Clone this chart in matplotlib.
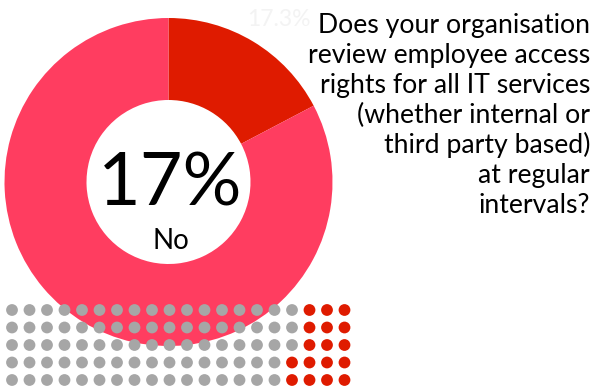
import matplotlib
matplotlib.use("Agg")
import matplotlib.pyplot as plt
import numpy as np

# Umfrageergebnis
anteile = [17.3, 82.7]           # Nein / Ja in Prozent
farben = ["#df1b00", "#ff3d60"]
anteil_label = "17.3%"
gross_label = "17%"
antwort = "No"
frage = [
    "Does your organisation",
    "review employee access",
    "rights for all IT services",
    "(whether internal or",
    "third party based)",
    "at regular",
    "intervals?",
]
punkte_gesamt = 100
punkte_nein = 17
punkt_spalten = 20

plt.rcParams["font.family"] = ["Lato", "DejaVu Sans"]

W, H = 598, 390
fig = plt.figure(figsize=(W / 100, H / 100), dpi=100)
ax = fig.add_axes([0, 0, 1, 1])

# Donut
cx, cy, r = 168.5, H - 182, 164
ax.pie(anteile, colors=farben, startangle=90, counterclock=False,
       center=(cx, cy), radius=r, frame=True,
       wedgeprops=dict(width=r / 2, linewidth=0))
ax.set_xlim(0, W)
ax.set_ylim(0, H)
ax.set_aspect("equal")
ax.axis("off")

ax.text(cx + 2, H - 206, gross_label, fontsize=53, ha="center", va="baseline", color="black")
ax.text(cx + 2, H - 249, antwort, fontsize=20, ha="center", va="baseline", color="black")
ax.text(279, H - 26, anteil_label, fontsize=16.5, ha="center", va="baseline", color="#f3f3f3")

# Frage rechtsbündig
for i, zeile in enumerate(frage):
    ax.text(590, H - 33 - i * 30, zeile, fontsize=19.2, ha="right", va="baseline", color="black")

# Punktraster: von rechts unten spaltenweise rot gefüllt
zeilen = punkte_gesamt // punkt_spalten
xs, ys, cs = [], [], []
for k in range(punkte_gesamt):
    spalte = punkt_spalten - 1 - k // zeilen
    zeile = zeilen - 1 - k % zeilen
    xs.append(12 + spalte * 17.5)
    ys.append(H - (310 + zeile * 17.5))
    cs.append("#df1b00" if k < punkte_nein else "#a6a6a6")
ax.scatter(xs, ys, s=72, c=cs, linewidths=0, zorder=5)

fig.savefig("out.png", dpi=100)
